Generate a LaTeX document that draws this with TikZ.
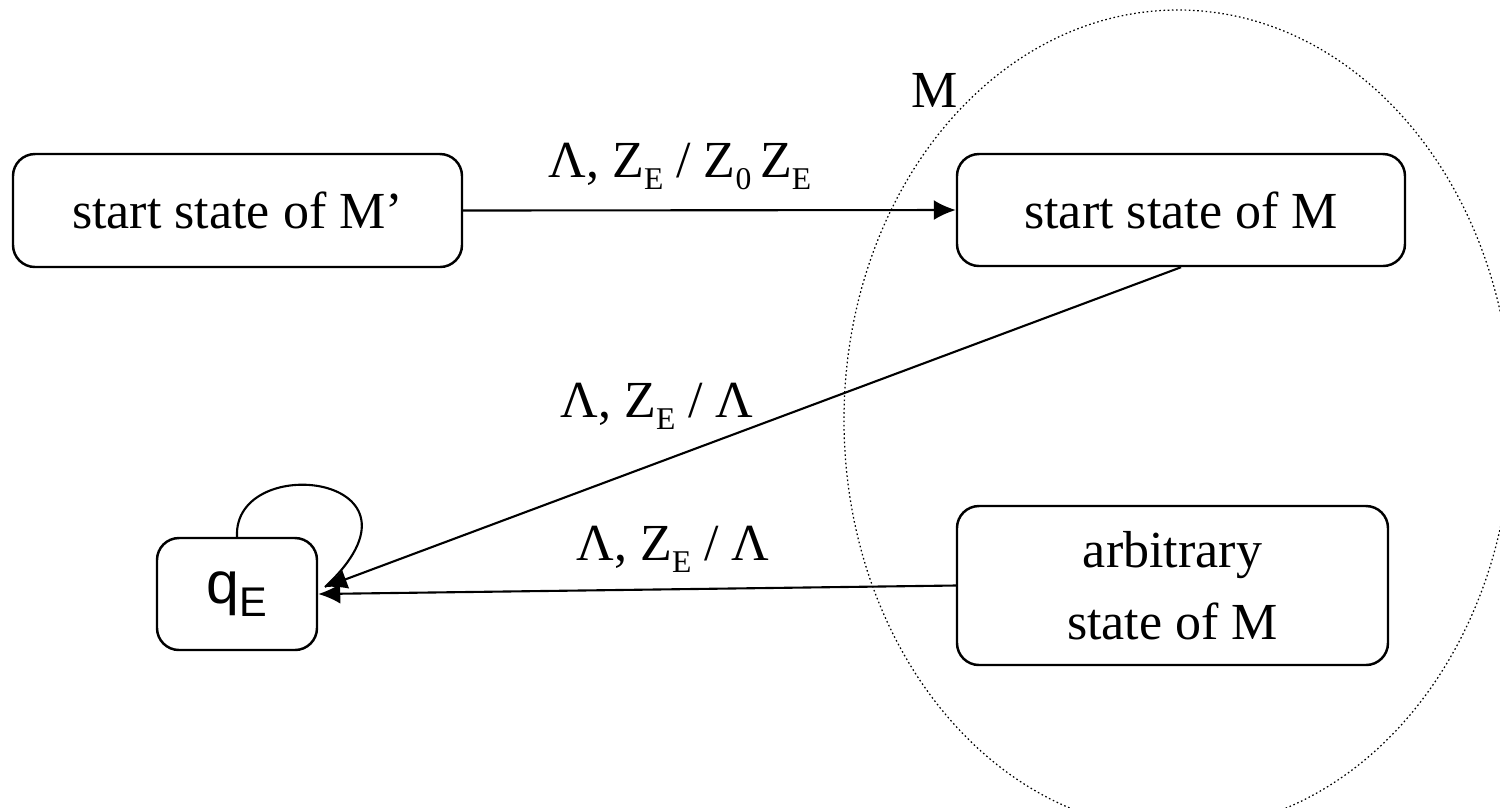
\documentclass[tikz,border=0pt]{standalone}
\usepackage{fontspec}
\setmainfont{Liberation Serif}
\newfontfamily\qsans{Liberation Sans}
\usetikzlibrary{arrows.meta}
% lowered small subscript, as in Z_E
\newcommand\lowsub[1]{\raisebox{-3.6pt}{\fontsize{9pt}{10pt}\selectfont #1}}
\tikzset{
  statebox/.style={draw, line width=0.7pt, rounded corners=0.22cm, inner sep=0pt,
    align=center, font=\fontsize{14.8pt}{20.5pt}\selectfont},
  trans/.style={line width=0.6pt, -{Latex[length=0.22cm,width=0.2cm]}},
  lbl/.style={anchor=base, inner sep=0pt, font=\fontsize{14.8pt}{20.5pt}\selectfont},
  machine/.style={line width=0.35pt, dash pattern=on 0.45pt off 0.75pt}
}
\begin{document}
\begin{tikzpicture}
\useasboundingbox (0,0) rectangle (15,-8.07);

% the machine M
\begin{scope}
  \clip (0,0) rectangle (15,-8.07);
  \draw[machine] (11.78,-4.2) ellipse [x radius=3.34, y radius=4.1];
\end{scope}
\node[lbl] (mlabel) at (9.35,-1.07) {M};

% states
\node[statebox, minimum width=4.49cm, minimum height=1.13cm] (startp) at (2.375,-2.105) {start state of M’};
\node[statebox, minimum width=4.48cm, minimum height=1.12cm] (startm) at (11.81,-2.10) {start state of M};
\node[statebox, minimum width=4.31cm, minimum height=1.59cm] (arb) at (11.725,-5.855) {arbitrary\\state of M};
\node[statebox, minimum width=1.60cm, minimum height=1.12cm] (qe) at (2.37,-5.94)
  {\qsans\fontsize{16.8pt}{19pt}\selectfont q\raisebox{-3.8pt}{\fontsize{11.8pt}{13pt}\selectfont E}};

\coordinate (qin) at (3.25,-5.87);

% transitions
\draw[trans] (startp.east) -- (startm.west);
\draw[trans] (startm.south) -- (qin);
\draw[trans] (arb.west) -- (qe.east);
\draw[line width=0.6pt] (qe.north) .. controls (2.33,-4.5) and (4.45,-4.75) .. (qin);

% transition labels
\node[lbl] (l1) at (6.8,-1.77) {Λ, Z\lowsub{E} / Z\lowsub{0}\,Z\lowsub{E}};
\node[lbl] (l2) at (6.57,-4.17) {Λ, Z\lowsub{E} / Λ};
\node[lbl] (l3) at (6.73,-5.60) {Λ, Z\lowsub{E} / Λ};
\end{tikzpicture}
\end{document}
